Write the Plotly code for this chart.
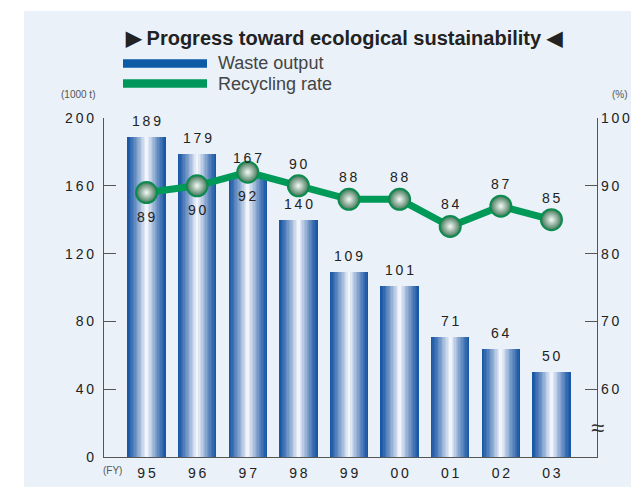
import plotly.graph_objects as go

# Fiscal years and series
years = ["95", "96", "97", "98", "99", "00", "01", "02", "03"]
waste_output = [189, 179, 167, 140, 109, 101, 71, 64, 50]      # 1000 t
recycling_rate = [89, 90, 92, 90, 88, 88, 84, 87, 85]          # %
rate_label_below = [True, True, True, False, False, False, False, False, False]

left_ticks = [0, 40, 80, 120, 160, 200]
right_ticks = [60, 70, 80, 90, 100]

W, H = 631, 488
PL, PR, PT, PB = 104, 597, 118, 457.3   # plot-area edges in pixels
PANEL = "#eaf1f8"
TEXT = "#222222"
AXIS = "#555555"
FONT = "Liberation Sans, Arial, sans-serif"


def spaced(v):
    # digits drawn with a little tracking
    return "\u2009".join(str(v))


def px_x(p):
    return (p - PL) / (PR - PL)


def px_y(p):
    return (PB - p) / (PB - PT)


def mix(c1, c2, t):
    a = [int(c1[i:i + 2], 16) for i in (1, 3, 5)]
    b = [int(c2[i:i + 2], 16) for i in (1, 3, 5)]
    return "#" + "".join(f"{round(x + (y - x) * t):02x}" for x, y in zip(a, b))


def note(px, py, text, size, color, xanchor="center", **font_kw):
    return dict(x=px_x(px), y=px_y(py), xref="paper", yref="paper",
                showarrow=False, text=text, xanchor=xanchor, yanchor="middle",
                font=dict(size=size, color=color, family=FONT, **font_kw))


xs = list(range(len(years)))
fig = go.Figure()

# Cylinder-like bars: stacked overlays of narrowing, lightening layers
BAR_W = 0.757
n_layers = 14
edge, core = "#1a57a5", "#f2f4fb"
for i in range(n_layers):
    f = i / (n_layers - 1)
    w = BAR_W * (1 - 0.93 * f)
    col = mix(edge, core, f ** 1.15)
    fig.add_trace(go.Bar(
        x=xs, y=waste_output, width=w, marker=dict(color=col, line=dict(width=0)),
        showlegend=False, hoverinfo="skip", yaxis="y",
    ))

# Recycling rate line with shaded sphere markers
fig.add_trace(go.Scatter(
    x=xs, y=recycling_rate, yaxis="y2", mode="lines+markers",
    line=dict(color="#009a58", width=7),
    marker=dict(size=21, color="#3f7556",
                gradient=dict(type="radial", color="#f6faf6"),
                line=dict(color="#0b8c4e", width=2)),
    showlegend=False, hoverinfo="skip", cliponaxis=False,
))

annotations = []
# Bar value labels
for x, v in zip(xs, waste_output):
    annotations.append(dict(x=x, y=v, xref="x", yref="y", text=spaced(v),
                            showarrow=False, yanchor="bottom", yshift=6,
                            font=dict(size=14, color=TEXT, family=FONT)))
# Recycling rate labels
for x, v, below in zip(xs, recycling_rate, rate_label_below):
    annotations.append(dict(x=x, y=v, xref="x", yref="y2", text=spaced(v),
                            showarrow=False,
                            yanchor="top" if below else "bottom",
                            yshift=-14 if below else 12,
                            font=dict(size=14, color=TEXT, family=FONT)))

# Title, legend text, units and axis-break mark
annotations += [
    note(344, 38, "\u25B6 Progress toward ecological sustainability \u25C0",
         20, TEXT, weight="bold"),
    note(216, 63, "Waste output", 18, "#444444", xanchor="left"),
    note(216, 83.5, "Recycling rate", 18, "#444444", xanchor="left"),
    note(78, 94, "(1000 t)", 10, AXIS),
    note(620, 94, "(%)", 10, AXIS),
    note(112, 471, "(FY)", 10, AXIS),
    note(597, 428, "\u2248", 24, "#333333"),
]

shapes = [
    # light panel behind the whole chart
    dict(type="rect", xref="paper", yref="paper", layer="below",
         x0=px_x(24), x1=px_x(640), y0=px_y(487), y1=px_y(11),
         fillcolor=PANEL, line=dict(width=0)),
    # legend swatches
    dict(type="rect", xref="paper", yref="paper",
         x0=px_x(123), x1=px_x(207), y0=px_y(67.7), y1=px_y(59.3),
         fillcolor="#0d5aa7", line=dict(width=0)),
    dict(type="rect", xref="paper", yref="paper",
         x0=px_x(123), x1=px_x(207), y0=px_y(87.7), y1=px_y(79.3),
         fillcolor="#00975a", line=dict(width=0)),
]

fig.update_layout(
    width=W, height=H,
    margin=dict(l=PL, r=W - PR, t=PT, b=H - PB, pad=0, autoexpand=False),
    paper_bgcolor="white", plot_bgcolor="rgba(0,0,0,0)",
    barmode="overlay", bargap=0,
    font=dict(family=FONT, size=14, color=TEXT),
    annotations=annotations, shapes=shapes,
    xaxis=dict(range=[-0.84, 8.9], tickvals=xs, ticktext=[spaced(y) for y in years],
               showgrid=False, zeroline=False, showline=True, linecolor=AXIS,
               linewidth=1.3, ticks="", tickfont=dict(size=14, color=TEXT),
               ticklabelstandoff=3, fixedrange=True, automargin=False),
    yaxis=dict(range=[0, 200], tickvals=left_ticks,
               ticktext=[spaced(v) for v in left_ticks],
               showgrid=False, zeroline=False, showline=True, linecolor=AXIS,
               linewidth=1.3, ticks="inside", ticklen=12, tickcolor=AXIS,
               tickwidth=1.3, tickfont=dict(size=14, color=TEXT),
               ticklabelstandoff=6, fixedrange=True, automargin=False),
    yaxis2=dict(range=[50, 100], overlaying="y", side="right", tickvals=right_ticks,
                ticktext=[spaced(v) for v in right_ticks],
                showgrid=False, zeroline=False, showline=True, linecolor=AXIS,
                linewidth=1.3, ticks="inside", ticklen=12, tickcolor=AXIS,
                tickwidth=1.3, tickfont=dict(size=14, color=TEXT),
                ticklabelstandoff=0, fixedrange=True, automargin=False),
)

fig.write_html("out.html", config={"displayModeBar": False})
